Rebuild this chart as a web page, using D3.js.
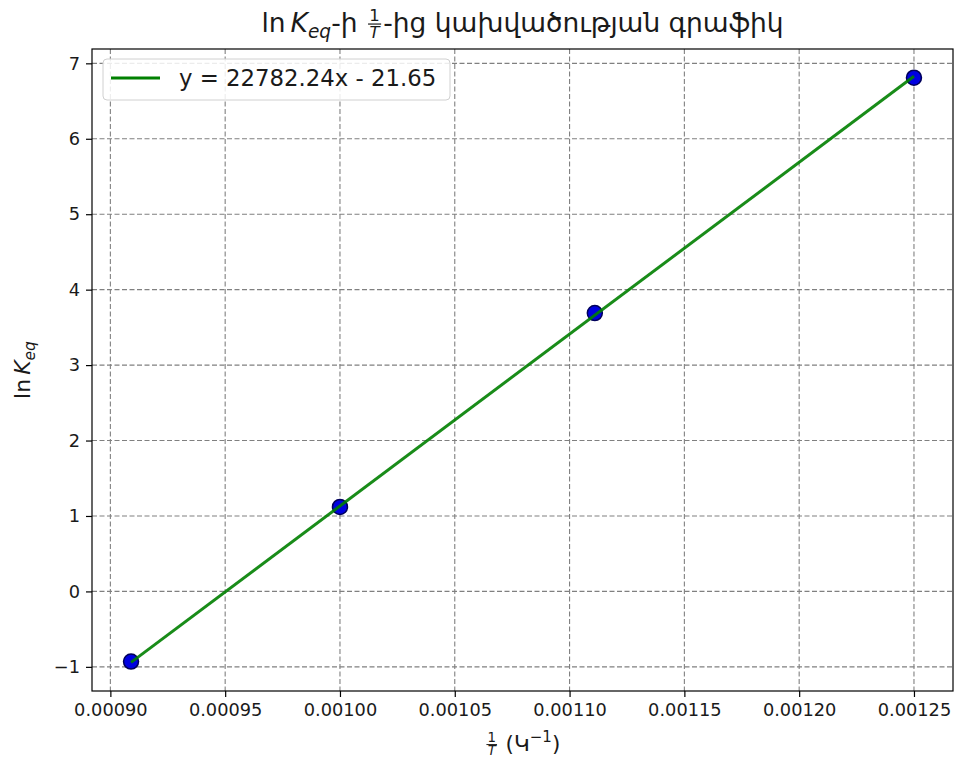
<!DOCTYPE html>
<html>
<head>
<meta charset="utf-8">
<script src="https://cdn.jsdelivr.net/npm/d3@7"></script>
<style>
  body { margin: 0; background: #fff; }
  text { font-family: "DejaVu Sans", sans-serif; fill: #1a1a1a; }
</style>
</head>
<body>
<div id="chart"></div>
<script>
// data
const invT = [0.000909, 0.001, 0.001111, 0.00125];
const lnK = [-0.93, 1.12, 3.69, 6.81];
const slope = 22782.24;
const intercept = -21.65;
const xTicks = [0.0009, 0.00095, 0.001, 0.00105, 0.0011, 0.00115, 0.0012, 0.00125];
const yTicks = [-1, 0, 1, 2, 3, 4, 5, 6, 7];
const legendLabel = "y = 22782.24x - 21.65";

const W = 957, H = 764;
const plotLeft = 92, plotRight = 953, plotTop = 49, plotBottom = 691;

const svg = d3.select("#chart").append("svg")
    .attr("width", W)
    .attr("height", H);

const x = d3.scaleLinear().domain([0.000892, 0.001267]).range([plotLeft, plotRight]);
const y = d3.scaleLinear().domain([-1.32, 7.19]).range([plotBottom, plotTop]);

// grid
let grid = svg.append("g");
grid.selectAll(".gx").data(xTicks).enter().append("line")
    .attr("x1", d => x(d)).attr("x2", d => x(d))
    .attr("y1", plotTop).attr("y2", plotBottom);
grid.selectAll(".gy").data(yTicks).enter().append("line")
    .attr("x1", plotLeft).attr("x2", plotRight)
    .attr("y1", d => y(d)).attr("y2", d => y(d));
grid.selectAll("line")
    .attr("stroke", "#808080")
    .attr("stroke-width", 1.1)
    .attr("stroke-dasharray", "5,2.5");

// axes
let xAxis = d3.axisBottom(x).tickValues(xTicks).tickFormat(d3.format(".5f")).tickSize(6).tickPadding(6);
let yAxis = d3.axisLeft(y).tickValues(yTicks).tickFormat(d => d < 0 ? "\u2212" + Math.abs(d) : d).tickSize(6).tickPadding(6);

let gx = svg.append("g").attr("transform", "translate(0," + plotBottom + ")").call(xAxis);
let gy = svg.append("g").attr("transform", "translate(" + plotLeft + ",0)").call(yAxis);
[gx, gy].forEach(g => {
  g.select(".domain").remove();
  g.selectAll("line").attr("stroke", "#000").attr("stroke-width", 1.2);
  g.selectAll("text").attr("font-size", 17.8).attr("fill", "#1a1a1a")
      .style("font-family", "DejaVu Sans");
});

// markers, then fit line on top
svg.append("g").selectAll("circle")
    .data(invT)
    .enter()
    .append("circle")
    .attr("cx", d => x(d))
    .attr("cy", (d, i) => y(lnK[i]))
    .attr("r", 7.5)
    .attr("fill", "#0000e0")
    .attr("stroke", "#00005a")
    .attr("stroke-width", 1.5);

let xmin = d3.min(invT), xmax = d3.max(invT);
svg.append("line")
    .attr("x1", x(xmin)).attr("y1", y(slope * xmin + intercept))
    .attr("x2", x(xmax)).attr("y2", y(slope * xmax + intercept))
    .attr("stroke", "#008000")
    .attr("stroke-width", 3)
    .attr("stroke-opacity", 0.9);

// frame
svg.append("rect")
    .attr("x", plotLeft).attr("y", plotTop)
    .attr("width", plotRight - plotLeft).attr("height", plotBottom - plotTop)
    .attr("fill", "none")
    .attr("stroke", "#000")
    .attr("stroke-width", 1.2);

// legend
let leg = svg.append("g");
leg.append("rect")
    .attr("x", 103).attr("y", 59)
    .attr("width", 347).attr("height", 41)
    .attr("rx", 4)
    .attr("fill", "#fff").attr("fill-opacity", 0.85)
    .attr("stroke", "#d0d0d0");
leg.append("line")
    .attr("x1", 111).attr("x2", 160)
    .attr("y1", 78).attr("y2", 78)
    .attr("stroke", "#008000").attr("stroke-width", 3);
leg.append("text")
    .attr("x", 179).attr("y", 86)
    .attr("font-size", 22.8)
    .text(legendLabel);

// small mathtext-like layout: plain, italic, subscript, superscript, fraction
function mathText(parent, parts, size) {
  let g = parent.append("g");
  let cx = 0;
  parts.forEach(p => {
    if (p.frac) {
      let fs = size * 0.62;
      let num = g.append("text").attr("font-size", fs).attr("text-anchor", "middle").text(p.frac[0]);
      let den = g.append("text").attr("font-size", fs).attr("text-anchor", "middle")
          .attr("font-style", "italic").text(p.frac[1]);
      let w = Math.max(num.node().getComputedTextLength(), den.node().getComputedTextLength()) + size * 0.1;
      let mid = cx + size * 0.08 + w / 2;
      let axisY = -size * 0.3;
      num.attr("x", mid).attr("y", axisY - size * 0.1);
      den.attr("x", mid).attr("y", axisY + fs * 0.82);
      g.append("line")
          .attr("x1", mid - w / 2).attr("x2", mid + w / 2)
          .attr("y1", axisY).attr("y2", axisY)
          .attr("stroke", "#1a1a1a").attr("stroke-width", size * 0.045);
      cx += w + size * 0.16;
    } else {
      let fs = (p.sub || p.sup) ? size * 0.7 : size;
      let t = g.append("text")
          .attr("x", cx)
          .attr("y", p.sub ? size * 0.22 : p.sup ? -size * 0.4 : 0)
          .attr("font-size", fs)
          .attr("font-style", p.it ? "italic" : null)
          .style("white-space", "pre")
          .text(p.t);
      cx += t.node().getComputedTextLength() + (p.gap || 0);
    }
  });
  return { g: g, width: cx };
}

// title
let title = mathText(svg, [
  { t: "ln", gap: 5 },
  { t: "K", it: true },
  { t: "eq", it: true, sub: true },
  { t: "-ի " },
  { frac: ["1", "T"] },
  { t: "-ից կախվածության գրաֆիկ" }
], 26.5);
title.g.attr("transform", "translate(" + ((plotLeft + plotRight) / 2 - title.width / 2) + ",32)");

// x label
let xl = mathText(svg, [
  { frac: ["1", "T"] },
  { t: " (Կ" },
  { t: "\u22121", sup: true },
  { t: ")" }
], 21.5);
xl.g.attr("transform", "translate(" + ((plotLeft + plotRight) / 2 - xl.width / 2) + ",751)");

// y label
let yl = mathText(svg, [
  { t: "ln", gap: 4 },
  { t: "K", it: true },
  { t: "eq", it: true, sub: true }
], 22);
yl.g.attr("transform", "translate(30," + ((plotTop + plotBottom) / 2 + yl.width / 2) + ") rotate(-90)");
</script>
</body>
</html>
